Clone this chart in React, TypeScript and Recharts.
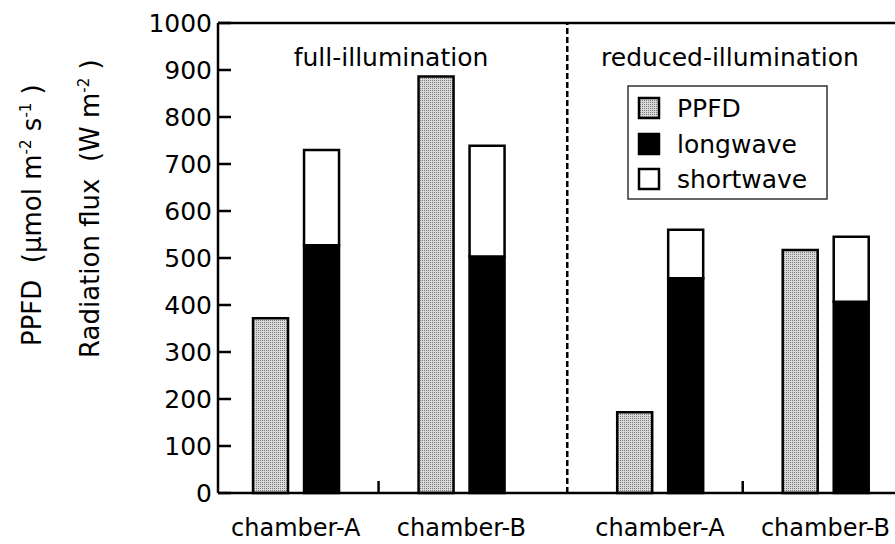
import React from 'react';
import { BarChart, Bar, XAxis, YAxis, ReferenceLine } from 'recharts';

// radiation environment in the two growth chambers
const chambers = ['chamber-A', 'chamber-B', 'chamber-A', 'chamber-B'];
const conditions = ['full-illumination', 'reduced-illumination'];
const conditionOf = [0, 0, 1, 1];
const ppfd = [372, 886, 172, 517];
const longwave = [527, 503, 457, 407];
const shortwave = [203, 236, 103, 138];
const yTicks = [0, 100, 200, 300, 400, 500, 600, 700, 800, 900, 1000];

const W = 895;
const H = 544;
const FONT = '"DejaVu Sans", "Liberation Sans", Arial, sans-serif';
const GROUP_GAP = 0.2; // extra space between the two illumination blocks

const data = chambers.map((name, i) => ({
  pos: i + 1 + conditionOf[i] * GROUP_GAP,
  name,
  ppfd: ppfd[i],
  longwave: longwave[i],
  shortwave: shortwave[i],
}));

// short dividers between the chambers of one block, dashed line between blocks
const dividers = conditions.map((_, c) => {
  const members = data.filter((_, i) => conditionOf[i] === c);
  return (members[0].pos + members[members.length - 1].pos) / 2;
});
const blockSplit = 2.64;

const series = [
  { key: 'ppfd', label: 'PPFD', fill: 'url(#stipple)' },
  { key: 'longwave', label: 'longwave', fill: '#000' },
  { key: 'shortwave', label: 'shortwave', fill: '#fff' },
];

const XTick = (props: any) => {
  const { x, y, payload } = props;
  const entry = data.find((d) => Math.abs(d.pos - payload.value) < 1e-6);
  if (entry) {
    return (
      <text x={x} y={y + 43} textAnchor="middle" fontSize={24} fontFamily={FONT} fill="#000">
        {entry.name}
      </text>
    );
  }
  return <line x1={x} x2={x} y1={y} y2={y - 12} stroke="#000" strokeWidth={2.5} />;
};

const YTick = (props: any) => {
  const { x, y, payload } = props;
  return (
    <g>
      <line x1={x} x2={x + 13} y1={y} y2={y} stroke="#000" strokeWidth={2.5} />
      <text x={x - 6} y={y} dy="0.36em" textAnchor="end" fontSize={25} fontFamily={FONT} fill="#000">
        {payload.value}
      </text>
    </g>
  );
};

const groupLabelX = [391, 730];
const legendRows = [108, 144, 179];

export default function App() {
  return (
    <div style={{ position: 'fixed', left: 0, top: 0, width: W, height: H, background: '#fff' }}>
      <svg width={0} height={0} style={{ position: 'absolute' }}>
        <defs>
          <pattern id="stipple" width={2} height={2} patternUnits="userSpaceOnUse">
            <rect width={2} height={2} fill="#d8d8d8" />
            <rect width={1} height={1} fill="#7e7e7e" />
          </pattern>
        </defs>
      </svg>
      <BarChart
        width={W}
        height={H}
        data={data}
        margin={{ top: 23, right: 0, bottom: 0, left: 8 }}
        barGap={16}
      >
        <XAxis
          dataKey="pos"
          type="number"
          domain={[0.53, 4.62]}
          allowDataOverflow
          ticks={[...data.map((d) => d.pos), ...dividers]}
          interval={0}
          tick={<XTick />}
          tickLine={false}
          tickSize={0}
          tickMargin={0}
          height={51}
          axisLine={{ stroke: '#000', strokeWidth: 2.5 }}
        />
        <YAxis
          domain={[0, 1000]}
          ticks={yTicks}
          interval={0}
          tick={<YTick />}
          tickLine={false}
          tickSize={0}
          tickMargin={0}
          width={210}
          axisLine={{ stroke: '#000', strokeWidth: 2.5 }}
        />
        <ReferenceLine y={1000} stroke="#000" strokeWidth={2.5} />
        <ReferenceLine x={blockSplit} stroke="#000" strokeWidth={2.5} strokeDasharray="6 3" />
        <Bar dataKey="ppfd" stackId="photon" fill="url(#stipple)" stroke="#000" strokeWidth={2.5} barSize={35} isAnimationActive={false} />
        <Bar dataKey="longwave" stackId="rad" fill="#000" stroke="#000" strokeWidth={2.5} barSize={35} isAnimationActive={false} />
        <Bar dataKey="shortwave" stackId="rad" fill="#fff" stroke="#000" strokeWidth={2.5} barSize={35} isAnimationActive={false} />
      </BarChart>
      <svg
        width={W}
        height={H}
        style={{ position: 'absolute', left: 0, top: 0, pointerEvents: 'none' }}
        fontFamily={FONT}
      >
        <text transform="translate(41 346) rotate(-90)" fontSize={26} fill="#000">
          {'PPFD\u00a0\u00a0(μmol m'}
          <tspan dy={-10} fontSize={15}>-2</tspan>
          <tspan dy={10}> s</tspan>
          <tspan dy={-10} fontSize={15}>-1</tspan>
          <tspan dy={10}>{'\u00a0)'}</tspan>
        </text>
        <text transform="translate(99 358) rotate(-90)" fontSize={26} fill="#000">
          {'Radiation flux\u00a0\u00a0(W m'}
          <tspan dy={-10} fontSize={15}>-2</tspan>
          <tspan dy={10}>{'\u00a0)'}</tspan>
        </text>
        {conditions.map((c, i) => (
          <text key={c} x={groupLabelX[i]} y={66} textAnchor="middle" fontSize={25} fill="#000">
            {c}
          </text>
        ))}
        <rect x={628} y={86} width={199} height={113} fill="#fff" stroke="#333" strokeWidth={1.5} />
        {series.map((s, i) => (
          <g key={s.key}>
            <rect
              x={639}
              y={legendRows[i] - 10}
              width={20}
              height={20}
              fill={s.fill}
              stroke="#000"
              strokeWidth={2.5}
            />
            <text x={677} y={legendRows[i]} dy="0.36em" fontSize={25} fill="#000">
              {s.label}
            </text>
          </g>
        ))}
      </svg>
    </div>
  );
}
